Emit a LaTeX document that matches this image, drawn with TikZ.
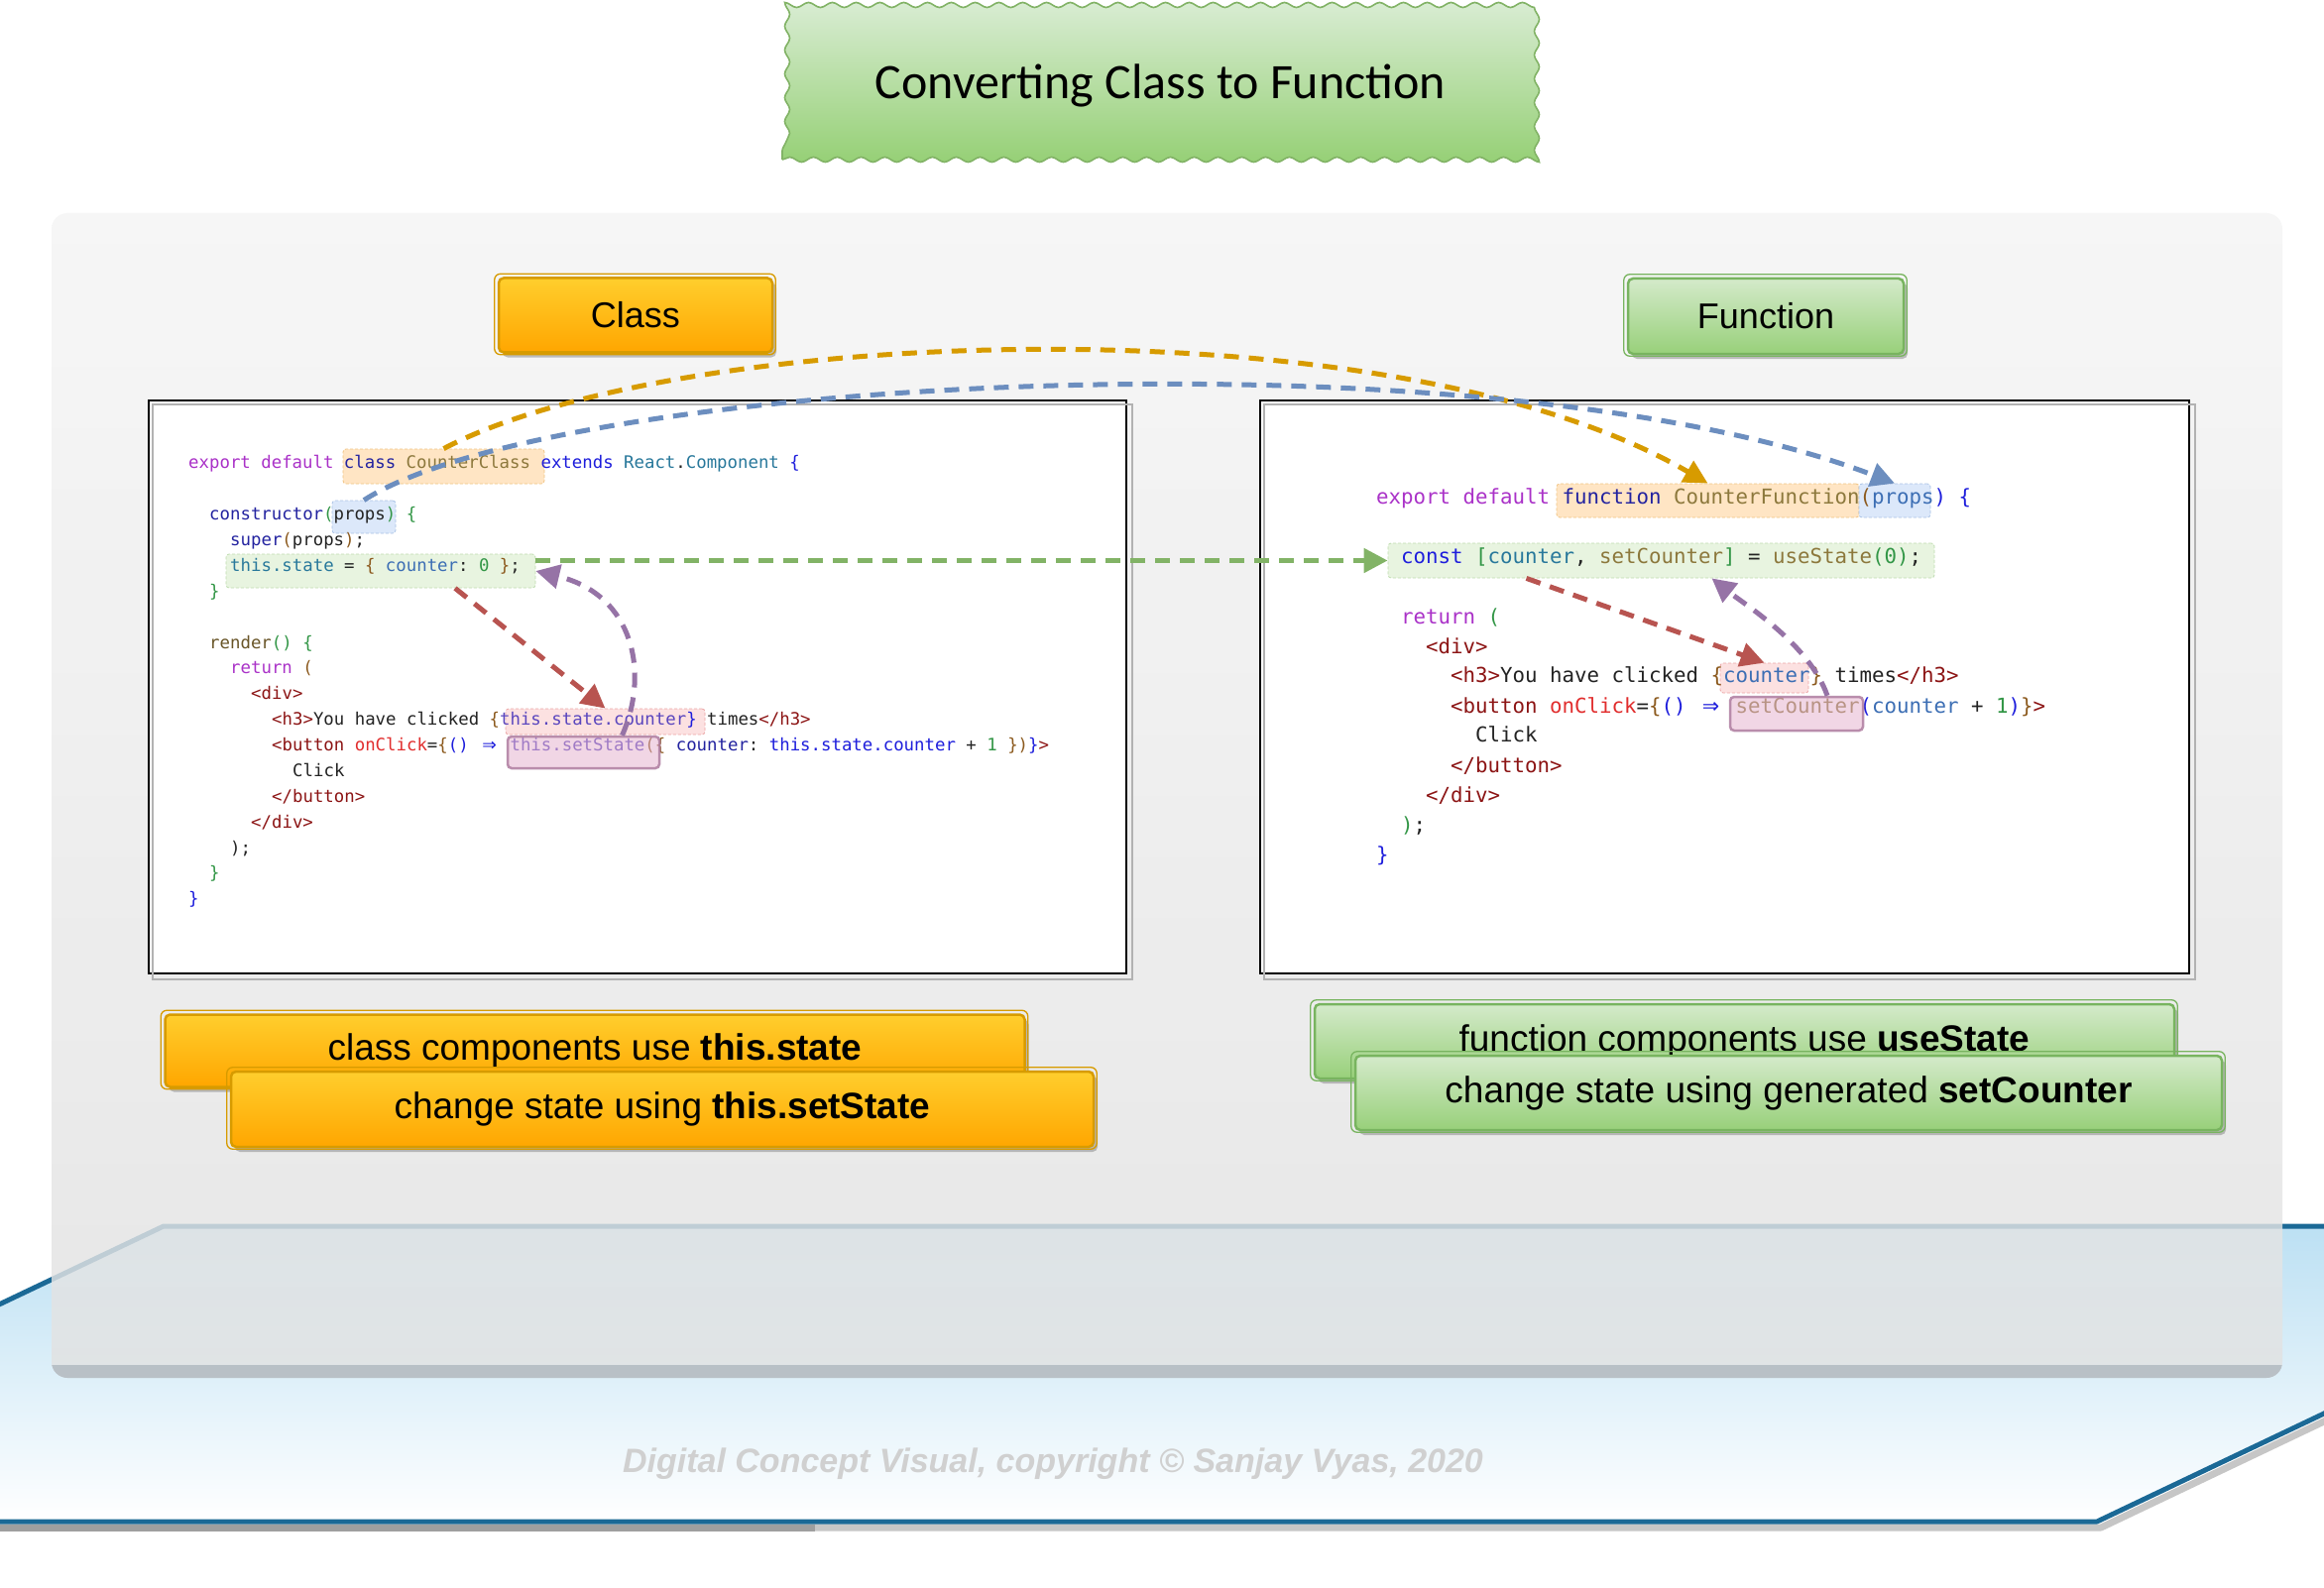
\documentclass[tikz,border=0pt]{standalone}
\usepackage{fontspec}
\usetikzlibrary{arrows.meta,decorations.pathmorphing,shadows,calc}
\newfontfamily\carlito{Carlito}
\newfontfamily\lsans{Liberation Sans}
\newfontfamily\codefont{DejaVu Sans Mono}
\newfontfamily\djvsans{DejaVu Sans}
% frame colours
\definecolor{ttTop}{RGB}{216,236,210}
\definecolor{ttBot}{RGB}{150,208,118}
\definecolor{ttDraw}{RGB}{130,179,102}
\definecolor{orTop}{RGB}{255,206,45}
\definecolor{orBot}{RGB}{255,166,0}
\definecolor{orDraw}{RGB}{215,155,0}
\definecolor{grTop}{RGB}{212,234,202}
\definecolor{grBot}{RGB}{152,208,122}
\definecolor{grDraw}{RGB}{120,180,95}
\definecolor{panTop}{RGB}{245,245,245}
\definecolor{panBot}{RGB}{226,226,226}
\definecolor{panBand}{RGB}{178,186,193}
\definecolor{platTop}{RGB}{188,224,243}
\definecolor{platEdge}{RGB}{27,105,150}
\definecolor{cpy}{RGB}{208,208,208}
% arrows
\definecolor{aOr}{RGB}{215,155,0}
\definecolor{aBl}{RGB}{108,142,191}
\definecolor{aGr}{RGB}{130,179,102}
\definecolor{aRd}{RGB}{184,84,80}
\definecolor{aPu}{RGB}{150,115,166}
% highlights
\definecolor{hOf}{RGB}{255,229,196}\definecolor{hOd}{RGB}{240,195,130}
\definecolor{hBf}{RGB}{220,232,250}\definecolor{hBd}{RGB}{170,195,230}
\definecolor{hGf}{RGB}{232,244,224}\definecolor{hGd}{RGB}{190,220,175}
\definecolor{hPf}{RGB}{252,225,225}\definecolor{hPd}{RGB}{235,165,165}
\definecolor{hMf}{RGB}{228,175,205}\definecolor{hMd}{RGB}{175,125,160}
% code colours
\definecolor{ckw}{RGB}{170,50,200}
\definecolor{cnv}{RGB}{35,35,160}
\definecolor{cbl}{RGB}{30,30,220}
\definecolor{ctl}{RGB}{40,120,155}
\definecolor{col}{RGB}{140,120,60}
\definecolor{cre}{RGB}{105,85,40}
\definecolor{cgr}{RGB}{50,150,70}
\definecolor{cbr}{RGB}{140,90,30}
\definecolor{ctg}{RGB}{140,20,20}
\definecolor{crd}{RGB}{225,45,45}
\definecolor{cdk}{RGB}{35,35,35}
\definecolor{cpu}{RGB}{90,70,190}
\definecolor{csb}{RGB}{60,110,180}
\newcommand\cc[2]{\textcolor{#1}{#2}}
\newcommand\darr{\makebox[1.204em][c]{\djvsans ⇒}}
\newcommand\sketchline[2]{\draw[#2, line width=1.3pt, rounded corners=6pt] ([shift={(-3,-3)}]#1.north west) rectangle ([shift={(2,1)}]#1.south east);}
\begin{document}
\begin{tikzpicture}[x=1pt,y=-1pt,
  codeL/.style={anchor=mid west, inner sep=0pt, text=cdk, font=\codefont\fontsize{17.36}{20}\selectfont\frenchspacing},
  codeR/.style={anchor=mid west, inner sep=0pt, text=cdk, font=\codefont\fontsize{20.76}{24}\selectfont\frenchspacing},
  hl/.style={rounded corners=3pt, dash pattern=on 3pt off 2pt, line width=0.8pt, inner sep=0pt},
  hlo/.style={hl, fill=hOf, draw=hOd},
  hlb/.style={hl, fill=hBf, draw=hBd},
  hlg/.style={hl, fill=hGf, draw=hGd},
  hlp/.style={hl, fill=hPf, draw=hPd},
  setbox/.style={rounded corners=4pt, line width=2.5pt, draw=hMd, fill=hMf, fill opacity=0.5, draw opacity=0.85, inner sep=0pt},
  dflow/.style={line width=5pt, dash pattern=on 15pt off 10pt, -{Triangle[length=24pt,width=24pt]}},
  orbox/.style={draw=orDraw, line width=2.5pt, rounded corners=5pt, top color=orTop, bottom color=orBot, inner sep=0pt,
     drop shadow={shadow xshift=4pt, shadow yshift=-5pt, opacity=0.4, fill=gray!80!black}},
  grbox/.style={draw=grDraw, line width=2.5pt, rounded corners=5pt, top color=grTop, bottom color=grBot, inner sep=0pt,
     drop shadow={shadow xshift=4pt, shadow yshift=-5pt, opacity=0.4, fill=gray!80!black}},
  btxt/.style={font=\lsans\fontsize{37}{44}\selectfont},
  htxt/.style={font=\lsans\fontsize{36}{42}\selectfont},
  codepanel/.style={fill=white, draw=black, line width=2pt, inner sep=0pt},
  titlebox/.style={top color=ttTop, bottom color=ttBot, draw=ttDraw, line width=1.6pt, inner sep=0pt,
     decorate, decoration={snake, segment length=24pt, amplitude=2.5pt},
     font=\carlito\fontsize{50}{60}\selectfont}
]
\path[use as bounding box] (0,0) rectangle (2344,1602);
\fill[white] (0,0) rectangle (2344,1602);

% ---------- platform ----------
\begin{scope}
\clip (0,0) rectangle (2344,1602);
\draw[gray!45, line width=7pt, line join=round] (-461,1541) -- (2119,1541) -- (2745,1243);
\draw[gray!75, line width=7pt] (0,1541) -- (822,1541);
\shade[top color=platTop, bottom color=white] (165,1237) -- (2741,1237) -- (2115,1535) -- (-461,1535) -- cycle;
\draw[platEdge, line width=5pt, line join=round] (165,1237) -- (2741,1237) -- (2115,1535) -- (-461,1535) -- cycle;
\end{scope}

% ---------- grey panel ----------
\path[rounded corners=16pt, top color=panTop, bottom color=panBot, opacity=0.82] (52,215) rectangle (2302,1390);
\begin{scope}
\clip[rounded corners=16pt] (52,215) rectangle (2302,1390);
\fill[panBand, opacity=0.85] (0,1377) rectangle (2344,1392);
\end{scope}

% ---------- title ----------
\node[titlebox, minimum width=763pt, minimum height=149pt] (title) at (1170.5,86.5) {Converting Class to Function};

% ---------- headers ----------
\node[orbox, htxt, minimum width=276pt, minimum height=75pt] (hclass) at (641,318) {Class};
\sketchline{hclass}{orDraw}
\node[grbox, htxt, minimum width=278pt, minimum height=76pt] (hfunc) at (1781,319) {Function};
\sketchline{hfunc}{grDraw}

% ---------- code panels ----------
\node[codepanel, minimum width=986pt, minimum height=578pt] (lpanel) at (643,693) {};
\draw[gray!60, line width=1.5pt] ([shift={(5,5)}]lpanel.north west) rectangle ([shift={(5,5)}]lpanel.south east);
\node[codepanel, minimum width=937pt, minimum height=578pt] (rpanel) at (1739.5,693) {};
\draw[gray!60, line width=1.5pt] ([shift={(5,5)}]rpanel.north west) rectangle ([shift={(5,5)}]rpanel.south east);

% ---------- highlight boxes ----------
\node[hlo, minimum width=203pt, minimum height=35pt] (cls) at (447.5,470.5) {};
\node[hlb, minimum width=64pt, minimum height=33pt] (prp) at (367,521.5) {};
\node[hlg, minimum width=312pt, minimum height=34pt] (gst) at (384,576) {};
\node[hlp, minimum width=201pt, minimum height=26pt] (cnt) at (610.5,728) {};
\node[hlo, minimum width=305pt, minimum height=34pt] (cfn) at (1722.5,505) {};
\node[hlb, minimum width=72pt, minimum height=34pt] (prp2) at (1911,505) {};
\node[hlg, minimum width=551pt, minimum height=35pt] (gfn) at (1675.5,565.5) {};
\node[hlp, minimum width=89pt, minimum height=30pt] (cnt2) at (1779.5,684) {};

% ---------- left code ----------
\node[codeL] (cl1) at (190,470) {\cc{ckw}{export default} \cc{cnv}{class} \cc{col}{CounterClass} \cc{cbl}{extends} \cc{ctl}{React}.\cc{ctl}{Component} \cc{cbl}{\{}};
\node[codeL] (cl2) at (211,522) {\cc{cnv}{constructor}\cc{cgr}{(}props\cc{cgr}{)} \cc{cgr}{\{}};
\node[codeL] (cl3) at (232,548) {\cc{cnv}{super}\cc{cbr}{(}props\cc{cbr}{)};};
\node[codeL] (cl4) at (232,574) {\cc{ctl}{this.state} = \cc{cbr}{\{} \cc{csb}{counter}: \cc{cgr}{0} \cc{cbr}{\}};};
\node[codeL] (cl5) at (211,600) {\cc{cgr}{\}}};
\node[codeL] (cl6) at (211,652) {\cc{cre}{render}\cc{cgr}{()} \cc{cgr}{\{}};
\node[codeL] (cl7) at (232,677) {\cc{ckw}{return} \cc{cbr}{(}};
\node[codeL] (cl8) at (253,703) {\cc{ctg}{<div>}};
\node[codeL] (cl9) at (274,729) {\cc{ctg}{<h3>}You have clicked \cc{cbr}{\{}\cc{cpu}{this.state.counter}\cc{cbl}{\}} times\cc{ctg}{</h3>}};
\node[codeL] (cl10) at (274,755) {\cc{ctg}{<button} \cc{crd}{onClick}=\cc{cbr}{\{}\cc{cbl}{()} \cc{cbl}{\darr} \cc{cpu}{this.setState}\cc{cbr}{(\{} \cc{cnv}{counter}: \cc{cbl}{this.state.counter} + \cc{cgr}{1} \cc{cbr}{\})}\cc{cbl}{\}}\cc{ctg}{>}};
\node[codeL] (cl11) at (295,781) {Click};
\node[codeL] (cl12) at (274,807) {\cc{ctg}{</button>}};
\node[codeL] (cl13) at (253,833) {\cc{ctg}{</div>}};
\node[codeL] (cl14) at (232,859) {);};
\node[codeL] (cl15) at (211,884) {\cc{cgr}{\}}};
\node[codeL] (cl16) at (190,910) {\cc{cbl}{\}}};

% ---------- right code ----------
\node[codeR] (cr1) at (1388,506) {\cc{ckw}{export default} \cc{cnv}{function} \cc{col}{CounterFunction}\cc{cbr}{(}\cc{csb}{props}\cc{cbl}{)} \cc{cbl}{\{}};
\node[codeR] (cr2) at (1413,566) {\cc{cbl}{const} \cc{cgr}{[}\cc{ctl}{counter}, \cc{col}{setCounter}\cc{cgr}{]} = \cc{col}{useState}\cc{cgr}{(0)};};
\node[codeR] (cr3) at (1413,627) {\cc{ckw}{return} \cc{cgr}{(}};
\node[codeR] (cr4) at (1438,657) {\cc{ctg}{<div>}};
\node[codeR] (cr5) at (1463,686) {\cc{ctg}{<h3>}You have clicked \cc{cbr}{\{}\cc{csb}{counter}\cc{cbr}{\}} times\cc{ctg}{</h3>}};
\node[codeR] (cr6) at (1463,717) {\cc{ctg}{<button} \cc{crd}{onClick}=\cc{cbr}{\{}\cc{cbl}{()} \cc{cbl}{\darr} \cc{col}{setCounter}\cc{cbl}{(}\cc{csb}{counter} + \cc{cgr}{1}\cc{cbl}{)}\cc{cbr}{\}}\cc{ctg}{>}};
\node[codeR] (cr7) at (1488,746) {Click};
\node[codeR] (cr8) at (1463,777) {\cc{ctg}{</button>}};
\node[codeR] (cr9) at (1438,807) {\cc{ctg}{</div>}};
\node[codeR] (cr10) at (1413,837) {\cc{cgr}{)};};
\node[codeR] (cr11) at (1388,867) {\cc{cbl}{\}}};

% ---------- setter boxes (over text) ----------
\node[setbox, minimum width=153pt, minimum height=32pt] (sst) at (588.5,759) {};
\node[setbox, minimum width=134pt, minimum height=34pt] (scn) at (1812,720) {};

% ---------- connectors ----------
\draw[dflow, aOr] (cls.north) .. controls (680,330) and (1400,300) .. (cfn.north);
\draw[dflow, aBl] (prp.north) .. controls (560,380) and (1500,330) .. (prp2.north);
\draw[dflow, aGr] (gst.east |- gfn.west) -- (gfn.west);
\draw[dflow, aRd] ([xshift=75pt]gst.south) -- (cnt.north);
\draw[dflow, aPu] ([xshift=39pt]sst.north) .. controls (655,680) and (640,600) .. (gst.east);
\draw[dflow, aRd] ([xshift=-136pt]gfn.south) -- (cnt2.north);
\draw[dflow, aPu] ([xshift=31pt]scn.north) .. controls (1825,650) and (1760,610) .. ([xshift=51pt]gfn.south);

% ---------- bottom labels ----------
\node[orbox, btxt, minimum width=867pt, minimum height=73pt] (lb1) at (600,1060) {class components use \textbf{this.state}};
\sketchline{lb1}{orDraw}
\node[orbox, btxt, minimum width=870pt, minimum height=76pt] (lb2) at (668,1119) {change state using \textbf{this.setState}};
\sketchline{lb2}{orDraw}
\node[grbox, btxt, minimum width=867pt, minimum height=75pt] (rb1) at (1759.5,1050.5) {function components use \textbf{useState}};
\sketchline{rb1}{grDraw}
\node[grbox, btxt, minimum width=874pt, minimum height=75pt] (rb2) at (1804,1102.5) {change state using generated \textbf{setCounter}};
\sketchline{rb2}{grDraw}

% ---------- copyright ----------
\node[font=\lsans\bfseries\itshape\fontsize{34}{40}\selectfont, text=cpy] (copy) at (1062,1477) {Digital Concept Visual, copyright © Sanjay Vyas, 2020};
\end{tikzpicture}
\end{document}
